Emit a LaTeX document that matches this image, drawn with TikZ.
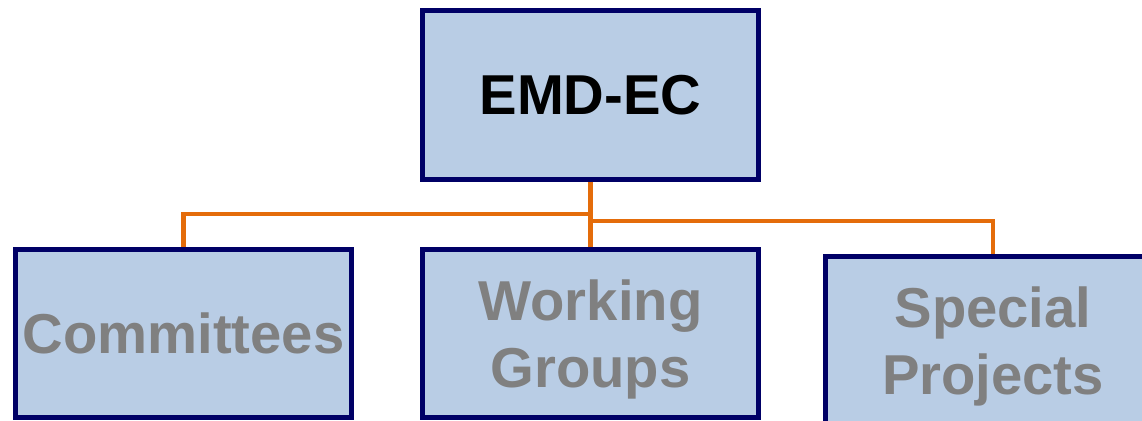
\documentclass[tikz,border=0pt]{standalone}
\usepackage{fontspec}
\setmainfont{Liberation Sans}
\definecolor{navy}{HTML}{000066}
\definecolor{boxblue}{HTML}{B9CDE5}
\definecolor{textgray}{HTML}{808080}
\definecolor{linkorange}{HTML}{E46C0A}

\begin{document}
\begin{tikzpicture}[x=0.02cm,y=-0.02cm,
	box/.style={draw=navy,fill=boxblue,line width=2.85pt,minimum width=6.72cm,minimum height=3.36cm,inner sep=0pt,align=center,text=textgray,font=\fontsize{32}{38}\selectfont\bfseries},
	twoline/.style={box,text depth=0pt},
	link/.style={draw=linkorange,line width=2.5pt}]
	\useasboundingbox (0,0) rectangle (1142,421);
	\node[box,text=black,minimum height=3.38cm] (ec) at (590.5,95) {EMD-EC};
	\node[box] (comm) at (183.5,333.5) {Committees};
	\node[twoline] (wg) at (590.5,333.5) {Working\\Groups};
	\node[twoline] (sp) at (993,340.5) {Special\\Projects};
	\draw[link] (ec.south) -- (wg.north);
	\draw[link] (ec.south |- 0,214) -| (comm.north);
	\draw[link] (ec.south |- 0,221) -| (sp.north);
\end{tikzpicture}
\end{document}
